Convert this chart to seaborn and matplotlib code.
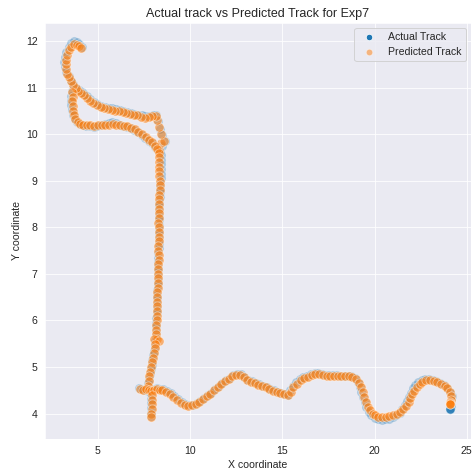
import numpy as np
import matplotlib
matplotlib.use('Agg')
import matplotlib.pyplot as plt
import seaborn as sns

# ----------------------
# Track data, split per part of the run
# ----------------------

# predicted track: loop at the top left
pred_loop = [(8.3, 9.65), (8.45, 9.8), (8.6, 9.85), (8.4, 10.0), (8.3, 10.15), (8.2, 10.3), (8.15, 10.39),
             (7.95, 10.38), (7.75, 10.36), (7.55, 10.35), (7.35, 10.37), (7.15, 10.4), (6.95, 10.42),
             (6.75, 10.43), (6.55, 10.45), (6.35, 10.47), (6.15, 10.49), (5.95, 10.5), (5.75, 10.52),
             (5.55, 10.54), (5.35, 10.56), (5.15, 10.58), (4.95, 10.62), (4.75, 10.66), (4.55, 10.72),
             (4.4, 10.78), (4.25, 10.84), (4.1, 10.88), (3.95, 10.92), (3.8, 10.98), (3.65, 11.05),
             (3.55, 11.13), (3.45, 11.22), (3.35, 11.3), (3.3, 11.4), (3.25, 11.5), (3.28, 11.6),
             (3.35, 11.7), (3.45, 11.8), (3.55, 11.88), (3.7, 11.93), (3.85, 11.92), (3.97, 11.89),
             (4.1, 11.85),
             (3.62, 10.9), (3.63, 10.8), (3.62, 10.7), (3.63, 10.6), (3.65, 10.5), (3.7, 10.4),
             (3.78, 10.32), (3.9, 10.26), (4.05, 10.22), (4.2, 10.2), (4.4, 10.19), (4.6, 10.19),
             (4.8, 10.18), (5.0, 10.19), (5.2, 10.2), (5.4, 10.2), (5.6, 10.2), (5.8, 10.21), (6.0, 10.2),
             (6.2, 10.19), (6.4, 10.18), (6.6, 10.17), (6.8, 10.14), (7.0, 10.1), (7.2, 10.05),
             (7.4, 10.0), (7.6, 9.94), (7.8, 9.88), (7.95, 9.82), (8.1, 9.75), (8.2, 9.68)]

# predicted track: long vertical leg
pred_vert = [(8.32, 9.6), (8.33, 9.5), (8.34, 9.4), (8.33, 9.3), (8.32, 9.2), (8.33, 9.1), (8.35, 9.0),
             (8.36, 8.9), (8.35, 8.8), (8.34, 8.7), (8.33, 8.6), (8.31, 8.5), (8.3, 8.4), (8.3, 8.3),
             (8.29, 8.2), (8.28, 8.1), (8.29, 8.0), (8.3, 7.9), (8.3, 7.8), (8.29, 7.7), (8.28, 7.6),
             (8.28, 7.5), (8.29, 7.4), (8.29, 7.3), (8.28, 7.2), (8.27, 7.1), (8.26, 7.0), (8.26, 6.9),
             (8.25, 6.8), (8.24, 6.7), (8.23, 6.6), (8.22, 6.5), (8.22, 6.4), (8.21, 6.3), (8.2, 6.2),
             (8.19, 6.1), (8.19, 6.0), (8.18, 5.9), (8.16, 5.8), (8.14, 5.7), (8.2, 5.6), (8.02, 5.6),
             (8.3, 5.55), (8.12, 5.5), (8.08, 5.4), (8.04, 5.3), (7.99, 5.2), (7.94, 5.1), (7.88, 5.0),
             (7.84, 4.9), (7.8, 4.8), (7.76, 4.7), (7.72, 4.6)]

# predicted track: crossing, tail and the bottom leg to the end
pred_bottom = [(7.3, 4.52), (7.45, 4.5), (7.6, 4.52), (7.75, 4.5), (7.9, 4.48), (8.05, 4.5), (8.2, 4.52),
               (8.35, 4.5), (7.92, 4.4), (7.93, 4.3), (7.92, 4.2), (7.91, 4.1), (7.9, 4.0), (7.9, 3.92),
               (8.5, 4.5), (8.7, 4.47), (8.9, 4.42), (9.1, 4.36), (9.3, 4.29), (9.5, 4.23), (9.7, 4.19),
               (9.9, 4.17), (10.1, 4.18), (10.3, 4.2), (10.5, 4.25), (10.7, 4.31), (10.9, 4.37),
               (11.1, 4.43), (11.3, 4.5), (11.5, 4.57), (11.7, 4.63), (11.9, 4.69), (12.1, 4.75),
               (12.3, 4.8), (12.5, 4.83), (12.7, 4.83), (12.9, 4.78), (13.1, 4.72), (13.3, 4.68),
               (13.5, 4.65), (13.7, 4.62), (13.9, 4.59), (14.1, 4.56), (14.3, 4.52), (14.5, 4.49),
               (14.7, 4.47), (14.9, 4.44), (15.1, 4.42), (15.3, 4.39), (15.45, 4.47), (15.6, 4.56),
               (15.8, 4.64), (16.0, 4.71), (16.2, 4.76), (16.4, 4.79), (16.6, 4.82), (16.8, 4.85),
               (17.0, 4.84), (17.2, 4.82), (17.4, 4.81), (17.6, 4.81), (17.8, 4.8), (18.0, 4.81),
               (18.2, 4.8), (18.4, 4.8), (18.6, 4.8), (18.8, 4.79), (19.0, 4.74), (19.15, 4.66),
               (19.25, 4.56), (19.35, 4.46), (19.45, 4.35), (19.55, 4.25), (19.65, 4.15), (19.75, 4.07),
               (19.9, 4.0), (20.05, 3.96), (20.2, 3.93), (20.4, 3.93), (20.6, 3.93), (20.8, 3.94),
               (21.0, 3.96), (21.2, 3.99), (21.4, 4.04), (21.55, 4.1), (21.7, 4.17), (21.85, 4.25),
               (21.95, 4.33), (22.05, 4.41), (22.15, 4.49), (22.3, 4.57), (22.45, 4.63), (22.6, 4.68),
               (22.8, 4.71), (23.0, 4.71), (23.2, 4.7), (23.4, 4.68), (23.6, 4.64), (23.8, 4.6),
               (23.95, 4.54), (24.1, 4.46), (24.15, 4.38), (24.12, 4.3), (24.1, 4.24), (24.1, 4.22),
               (24.1, 4.2), (24.1, 4.2)]

# actual track: loop at the top left
actual_loop = [(8.38, 9.62), (8.5, 9.75), (8.62, 9.85), (8.5, 9.98), (8.35, 10.12), (8.25, 10.28), (8.18, 10.4),
               (7.98, 10.41), (7.78, 10.39), (7.58, 10.38), (7.38, 10.4), (7.18, 10.42), (6.98, 10.44),
               (6.78, 10.46), (6.58, 10.48), (6.38, 10.5), (6.18, 10.52), (5.98, 10.53), (5.78, 10.55),
               (5.58, 10.57), (5.38, 10.59), (5.18, 10.61), (4.98, 10.65), (4.78, 10.69), (4.58, 10.75),
               (4.42, 10.81), (4.27, 10.87), (4.12, 10.91), (3.97, 10.95), (3.82, 11.0), (3.67, 11.07),
               (3.55, 11.15), (3.42, 11.24), (3.3, 11.33), (3.2, 11.43), (3.16, 11.54), (3.2, 11.65),
               (3.3, 11.76), (3.42, 11.87), (3.55, 11.96), (3.7, 11.99), (3.86, 11.97), (4.0, 11.93),
               (4.14, 11.88),
               (3.58, 10.92), (3.57, 10.82), (3.56, 10.72), (3.57, 10.62), (3.6, 10.52), (3.65, 10.42),
               (3.74, 10.33), (3.86, 10.26), (4.02, 10.21), (4.18, 10.19), (4.38, 10.17), (4.58, 10.17),
               (4.78, 10.16), (4.98, 10.17), (5.18, 10.19), (5.38, 10.21), (5.58, 10.24), (5.78, 10.26),
               (5.98, 10.23), (6.18, 10.2), (6.38, 10.18), (6.58, 10.16), (6.78, 10.13), (6.98, 10.09),
               (7.18, 10.04), (7.38, 9.98), (7.58, 9.92), (7.78, 9.86), (7.94, 9.8), (8.1, 9.73), (8.24, 9.66)]

# actual track: long vertical leg
actual_vert = [(8.42, 9.55), (8.43, 9.45), (8.42, 9.35), (8.41, 9.25), (8.4, 9.15), (8.4, 9.05), (8.39, 8.95),
               (8.38, 8.85), (8.37, 8.75), (8.35, 8.65), (8.33, 8.55), (8.32, 8.45), (8.31, 8.35),
               (8.3, 8.25), (8.29, 8.15), (8.29, 8.05), (8.3, 7.95), (8.31, 7.85), (8.3, 7.75), (8.29, 7.65),
               (8.29, 7.55), (8.28, 7.45), (8.28, 7.35), (8.27, 7.25), (8.27, 7.15), (8.26, 7.05),
               (8.25, 6.95), (8.25, 6.85), (8.24, 6.75), (8.23, 6.65), (8.22, 6.55), (8.21, 6.45),
               (8.21, 6.35), (8.2, 6.25), (8.19, 6.15), (8.18, 6.05), (8.17, 5.95), (8.16, 5.85),
               (8.14, 5.75), (8.13, 5.65), (8.11, 5.55), (8.08, 5.45), (8.05, 5.35), (8.01, 5.25),
               (7.96, 5.15), (7.91, 5.05), (7.86, 4.95), (7.82, 4.85), (7.78, 4.75), (7.74, 4.65), (7.71, 4.55)]

# actual track: crossing, tail and the bottom leg to the end (robot stops at 24.11, 4.1)
actual_bottom = [(7.25, 4.55), (7.42, 4.53), (7.58, 4.5), (7.74, 4.48), (7.9, 4.5), (8.06, 4.53), (8.22, 4.54),
                 (8.38, 4.52), (7.88, 4.42), (7.88, 4.32), (7.87, 4.22), (7.87, 4.12), (7.86, 4.02),
                 (7.86, 3.94), (8.55, 4.53), (8.75, 4.49), (8.95, 4.44), (9.15, 4.38), (9.35, 4.31),
                 (9.55, 4.25), (9.75, 4.2), (9.95, 4.18), (10.15, 4.19), (10.35, 4.22), (10.55, 4.27),
                 (10.75, 4.33), (10.95, 4.39), (11.15, 4.45), (11.35, 4.52), (11.55, 4.59), (11.75, 4.65),
                 (11.95, 4.71), (12.15, 4.77), (12.35, 4.82), (12.55, 4.85), (12.75, 4.84), (12.95, 4.79),
                 (13.15, 4.73), (13.35, 4.69), (13.55, 4.66), (13.75, 4.63), (13.95, 4.6), (14.15, 4.57),
                 (14.35, 4.53), (14.55, 4.5), (14.75, 4.47), (14.95, 4.44), (15.15, 4.41), (15.3, 4.4),
                 (15.42, 4.5), (15.56, 4.6), (15.75, 4.68), (15.95, 4.74), (16.15, 4.78), (16.35, 4.81),
                 (16.55, 4.84), (16.75, 4.87), (16.95, 4.86), (17.15, 4.84), (17.35, 4.83), (17.55, 4.82),
                 (17.75, 4.82), (17.95, 4.82), (18.15, 4.81), (18.35, 4.81), (18.55, 4.81), (18.75, 4.8),
                 (18.95, 4.76), (19.1, 4.68), (19.2, 4.58), (19.28, 4.47), (19.37, 4.36), (19.46, 4.25),
                 (19.56, 4.14), (19.68, 4.04), (19.83, 3.96), (20.0, 3.91), (20.18, 3.88), (20.38, 3.87),
                 (20.58, 3.88), (20.78, 3.89), (20.98, 3.92), (21.18, 3.96), (21.36, 4.02), (21.5, 4.1),
                 (21.63, 4.18), (21.76, 4.27), (21.86, 4.36), (21.96, 4.45), (22.08, 4.54), (22.22, 4.62),
                 (22.38, 4.68), (22.55, 4.72), (22.75, 4.75), (22.95, 4.75), (23.15, 4.73), (23.35, 4.7),
                 (23.55, 4.66), (23.75, 4.61), (23.92, 4.55), (24.08, 4.47), (24.18, 4.38), (24.17, 4.28),
                 (24.14, 4.2), (24.12, 4.14), (24.11, 4.1), (24.11, 4.1), (24.11, 4.1), (24.11, 4.1),
                 (24.11, 4.1), (24.11, 4.1)]

pred = np.array(pred_loop + pred_vert + pred_bottom)
actual = np.array(actual_loop + actual_vert + actual_bottom)

# ----------------------
# Plot
# ----------------------
sns.set_style('darkgrid')
plt.rcParams['font.family'] = ['Liberation Sans', 'DejaVu Sans']

fig = plt.figure(figsize=(473 / 72, 476 / 72), dpi=72)
ax = fig.add_axes([44.5 / 473, 1 - 438.5 / 476, (471 - 44.5) / 473, (438.5 - 22.5) / 476])

sns.scatterplot(x=actual[:, 0], y=actual[:, 1], label='Actual Track', alpha=0.3, s=85, ax=ax)
sns.scatterplot(x=pred[:, 0], y=pred[:, 1], label='Predicted Track', alpha=0.55, s=85, ax=ax)

ax.set_title('Actual track vs Predicted Track for Exp7', fontsize=12.5)
ax.set_xlabel('X coordinate', fontsize=10.5)
ax.set_ylabel('Y coordinate', fontsize=10.5)
ax.tick_params(labelsize=10.5)

leg = ax.legend(loc='upper right', fontsize=10.5, markerscale=0.7)
leg.legend_handles[0].set_alpha(1)
leg.legend_handles[1].set_alpha(0.5)

fig.savefig('out.png', dpi=72)
